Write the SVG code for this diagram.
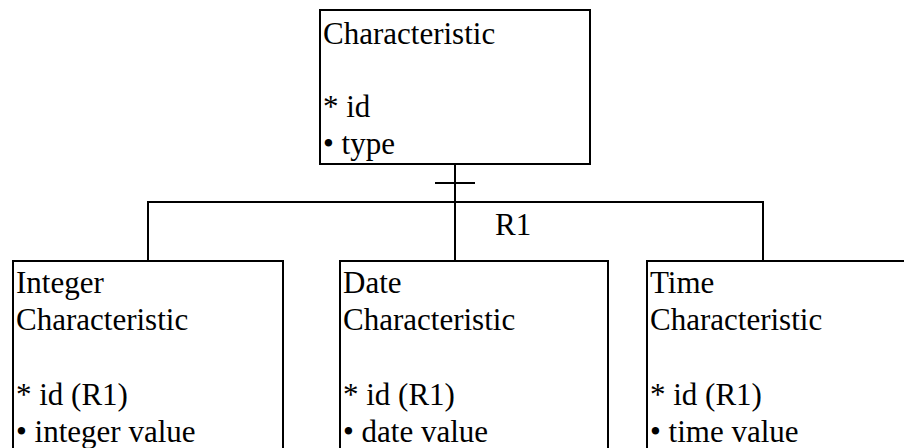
<svg xmlns="http://www.w3.org/2000/svg" width="904" height="448" viewBox="0 0 904 448">
<style>
.box{fill:#fff;stroke:#000;stroke-width:2}
.ln{fill:none;stroke:#000;stroke-width:2}
</style>
<rect width="904" height="448" fill="#fff"/>
<g id="connectors">
<line class="ln" x1="455" y1="164" x2="455" y2="202"/>
<line class="ln" x1="435" y1="183" x2="475" y2="183"/>
<polyline class="ln" points="148,260 148,202 763,202 763,260"/>
<line class="ln" x1="455" y1="202" x2="455" y2="260"/>
<text x="495" y="235" font-family="Liberation Serif" font-size="31" fill="#000">R1</text>
</g>
<g id="characteristic" font-family="Liberation Serif" font-size="31" fill="#000">
<rect class="box" x="320" y="10" width="270" height="154"/>
<text x="323" y="44">Characteristic</text>
<text x="323" y="117">* id</text>
<text x="323" y="154">• type</text>
</g>
<g id="integer-characteristic" font-family="Liberation Serif" font-size="31" fill="#000">
<rect class="box" x="13" y="261" width="270" height="220"/>
<text x="16" y="293">Integer</text>
<text x="16" y="330">Characteristic</text>
<text x="16" y="405">* id (R1)</text>
<text x="16" y="442">• integer value</text>
</g>
<g id="date-characteristic" font-family="Liberation Serif" font-size="31" fill="#000">
<rect class="box" x="340" y="261" width="268" height="220"/>
<text x="343" y="293">Date</text>
<text x="343" y="330">Characteristic</text>
<text x="343" y="405">* id (R1)</text>
<text x="343" y="442">• date value</text>
</g>
<g id="time-characteristic" font-family="Liberation Serif" font-size="31" fill="#000">
<rect class="box" x="647" y="261" width="270" height="220"/>
<text x="650" y="293">Time</text>
<text x="650" y="330">Characteristic</text>
<text x="650" y="405">* id (R1)</text>
<text x="650" y="442">• time value</text>
</g>
</svg>
